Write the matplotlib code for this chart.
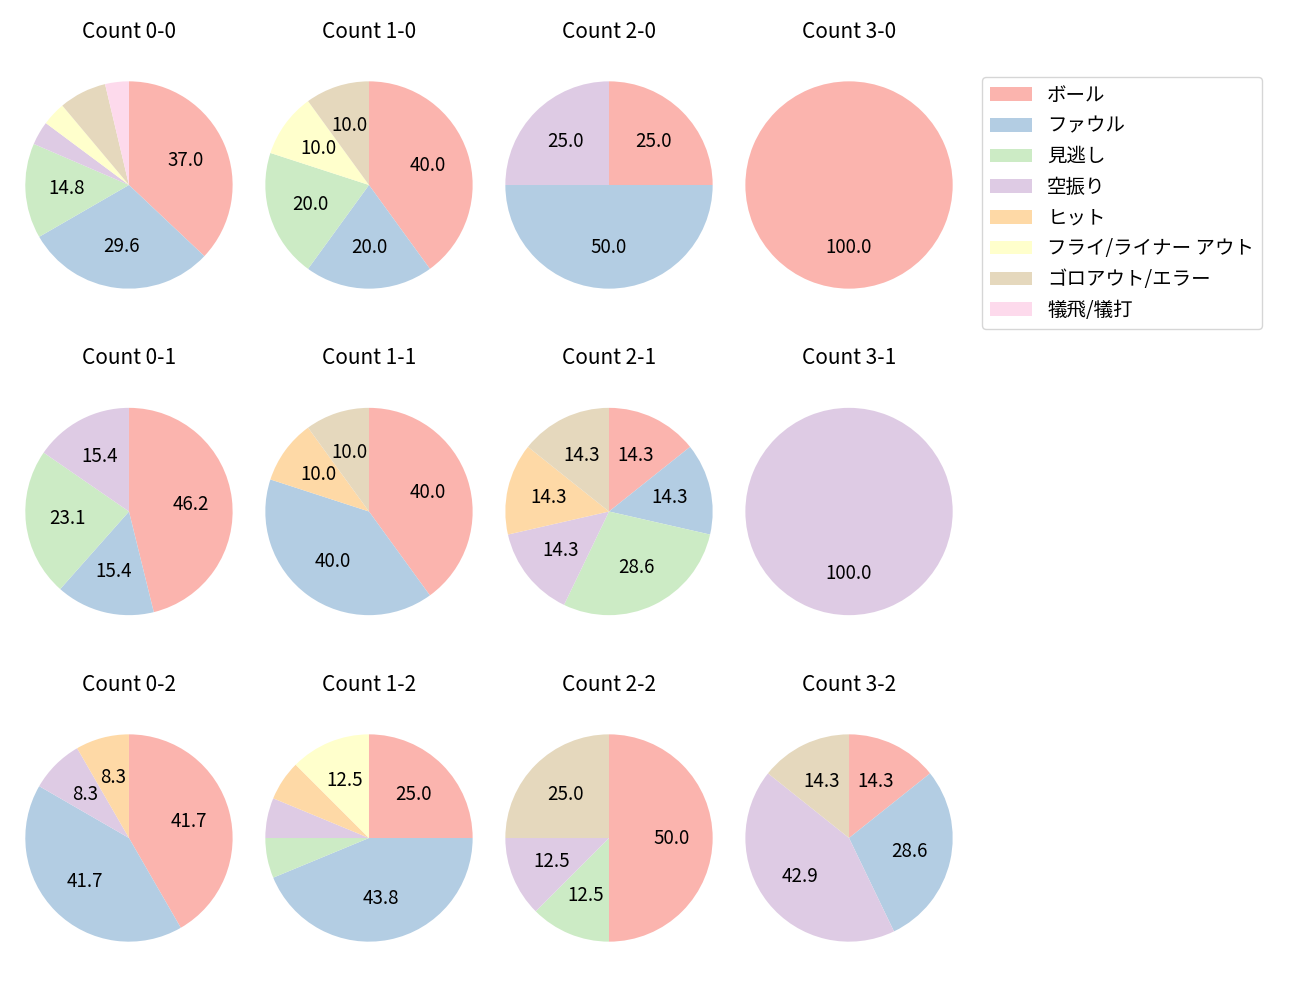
import matplotlib
matplotlib.use('Agg')
import matplotlib.pyplot as plt
import numpy as np

plt.rcParams['font.family'] = ['Noto Sans CJK JP', 'DejaVu Sans']
plt.rcParams['font.size'] = 13.5

# Result categories (legend order)
results = ['ボール', 'ファウル', '見逃し', '空振り', 'ヒット',
           'フライ/ライナー アウト', 'ゴロアウト/エラー', '犠飛/犠打']

# Pitch counts per ball-strike count, same order as results
count_0_0 = [10, 8, 4, 1, 0, 1, 2, 1]
count_1_0 = [4, 2, 2, 0, 0, 1, 1, 0]
count_2_0 = [1, 2, 0, 1, 0, 0, 0, 0]
count_3_0 = [1, 0, 0, 0, 0, 0, 0, 0]
count_0_1 = [6, 2, 3, 2, 0, 0, 0, 0]
count_1_1 = [4, 4, 0, 0, 1, 0, 1, 0]
count_2_1 = [1, 1, 2, 1, 1, 0, 1, 0]
count_3_1 = [0, 0, 0, 1, 0, 0, 0, 0]
count_0_2 = [5, 5, 0, 1, 1, 0, 0, 0]
count_1_2 = [4, 7, 1, 1, 1, 2, 0, 0]
count_2_2 = [4, 0, 1, 1, 0, 0, 2, 0]
count_3_2 = [1, 2, 0, 3, 0, 0, 1, 0]

grid = [
    [('0-0', count_0_0), ('1-0', count_1_0), ('2-0', count_2_0), ('3-0', count_3_0)],
    [('0-1', count_0_1), ('1-1', count_1_1), ('2-1', count_2_1), ('3-1', count_3_1)],
    [('0-2', count_0_2), ('1-2', count_1_2), ('2-2', count_2_2), ('3-2', count_3_2)],
]

colors = plt.cm.Pastel1(np.arange(len(results)))


def fmt_pct(pct):
    # hide labels for small slices
    return f'{pct:.1f}' if pct >= 8 else ''


fig, axes = plt.subplots(3, 4, figsize=(13, 10))
fig.subplots_adjust(left=0.0115, right=0.7408, top=0.954, bottom=0.023,
                    wspace=0.0526, hspace=0.1745)
for r, row in enumerate(grid):
    for c, (name, vals) in enumerate(row):
        ax = axes[r][c]
        wedges, texts, autotexts = ax.pie(vals, colors=colors, startangle=90,
                                          counterclock=False, autopct=fmt_pct)
        ax.axis('equal')
        ax.set_title(f'Count {name}', fontsize=15)

fig.legend(wedges, results, loc='upper left', bbox_to_anchor=(0.7554, 0.923),
           borderaxespad=0, fontsize=14, handlelength=2.15)
plt.savefig('out.png', dpi=100)
